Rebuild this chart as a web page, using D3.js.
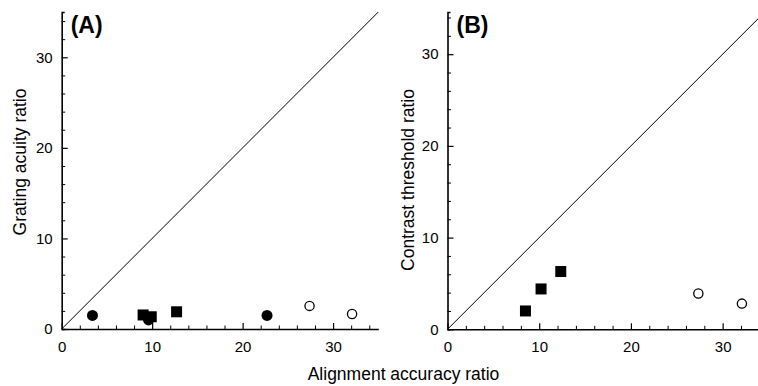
<!DOCTYPE html>
<html>
<head>
<meta charset="utf-8">
<script src="https://cdn.jsdelivr.net/npm/d3@7"></script>
<style>
  html, body { margin: 0; padding: 0; background: #fff; }
  svg { display: block; font-family: "Liberation Sans", Arial, sans-serif; }
</style>
</head>
<body>
<svg id="chart" width="758" height="386"></svg>
<script>
// ---- data ----
const majorTicks = [0, 10, 20, 30];
const minorTicks = [2, 4, 6, 8, 12, 14, 16, 18, 22, 24, 26, 28, 32, 34];

// Panel A: grating acuity ratio vs alignment accuracy ratio
const aFilledCircles = [[3.4, 1.5], [9.6, 1.0], [22.7, 1.5]];
const aFilledSquares = [[9.0, 1.55], [9.9, 1.35], [12.7, 1.9]];
const aOpenCircles   = [[27.4, 2.55], [32.1, 1.65]];

// Panel B: contrast threshold ratio vs alignment accuracy ratio
const bFilledSquares = [[8.5, 2.0], [10.2, 4.4], [12.35, 6.3]];
const bOpenCircles   = [[27.35, 3.9], [32.1, 2.8]];

const panelLabels = ["(A)", "(B)"];
const yTitles = ["Grating acuity ratio", "Contrast threshold ratio"];
const xTitle = "Alignment accuracy ratio";

const svg = d3.select("#chart");

function drawPanel(cfg) {
  const x = d3.scaleLinear().domain([0, 35]).range(cfg.xr);
  const y = d3.scaleLinear().domain([0, cfg.ymax]).range(cfg.yr);
  const g = svg.append("g");

  // minor ticks
  g.append("g").attr("transform", `translate(0,${cfg.yr[0]})`)
    .call(d3.axisBottom(x).tickValues(minorTicks).tickSizeInner(-3.5).tickSizeOuter(0).tickFormat(""))
    .call(s => s.select(".domain").remove());
  g.append("g").attr("transform", `translate(${cfg.xr[0]},0)`)
    .call(d3.axisLeft(y).tickValues(minorTicks.filter(v => v <= cfg.ymax)).tickSizeInner(-3.5).tickSizeOuter(0).tickFormat(""))
    .call(s => s.select(".domain").remove());

  // major axes
  const xa = g.append("g").attr("transform", `translate(0,${cfg.yr[0]})`)
    .call(d3.axisBottom(x).tickValues(majorTicks).tickSizeInner(-6).tickSizeOuter(0).tickPadding(12));
  const ya = g.append("g").attr("transform", `translate(${cfg.xr[0]},0)`)
    .call(d3.axisLeft(y).tickValues(majorTicks).tickSizeInner(-6).tickSizeOuter(-3).tickPadding(9));
  [xa, ya].forEach(a => {
    a.select(".domain").attr("stroke", "#000").attr("stroke-width", 1.6);
    a.selectAll(".tick line").attr("stroke", "#000").attr("stroke-width", 1.2);
    a.selectAll("text").attr("font-size", 15).attr("fill", "#000")
      .attr("font-family", "'Liberation Sans', Arial, sans-serif");
  });
  g.selectAll(".tick line").attr("stroke", "#000");

  // identity line
  const lim = Math.min(35, cfg.ymax);
  g.append("line")
    .attr("x1", x(0)).attr("y1", y(0)).attr("x2", x(lim)).attr("y2", y(lim))
    .attr("stroke", "#000").attr("stroke-width", 1);

  // points
  const sq = 11;
  g.selectAll(null).data(cfg.squares).enter().append("rect")
    .attr("x", d => x(d[0]) - sq / 2).attr("y", d => y(d[1]) - sq / 2)
    .attr("width", sq).attr("height", sq).attr("fill", "#000");
  g.selectAll(null).data(cfg.filled).enter().append("circle")
    .attr("cx", d => x(d[0])).attr("cy", d => y(d[1])).attr("r", 5.5).attr("fill", "#000");
  g.selectAll(null).data(cfg.open).enter().append("circle")
    .attr("cx", d => x(d[0])).attr("cy", d => y(d[1])).attr("r", 4.6)
    .attr("fill", "#fff").attr("stroke", "#000").attr("stroke-width", 1.3);

  // panel label
  g.append("text").attr("x", cfg.xr[0] + 9).attr("y", 33)
    .attr("font-size", 23).attr("font-weight", "bold").attr("fill", "#000")
    .text(cfg.label);

  // y title
  g.append("text")
    .attr("transform", `translate(${cfg.ytx},${cfg.yty}) rotate(-90)`)
    .attr("text-anchor", "middle").attr("font-size", 17.5).attr("fill", "#000")
    .text(cfg.ytitle);
}

drawPanel({
  xr: [61.7, 378.3], yr: [329, 12], ymax: 35,
  squares: aFilledSquares, filled: aFilledCircles, open: aOpenCircles,
  label: panelLabels[0], ytitle: yTitles[0], ytx: 26, yty: 162
});
drawPanel({
  xr: [447.5, 768.5], yr: [329.3, 12], ymax: 34.6,
  squares: bFilledSquares, filled: [], open: bOpenCircles,
  label: panelLabels[1], ytitle: yTitles[1], ytx: 414, yty: 180
});

svg.append("text").attr("x", 403.5).attr("y", 380)
  .attr("text-anchor", "middle").attr("font-size", 17.5).attr("fill", "#000")
  .text(xTitle);
</script>
</body>
</html>
